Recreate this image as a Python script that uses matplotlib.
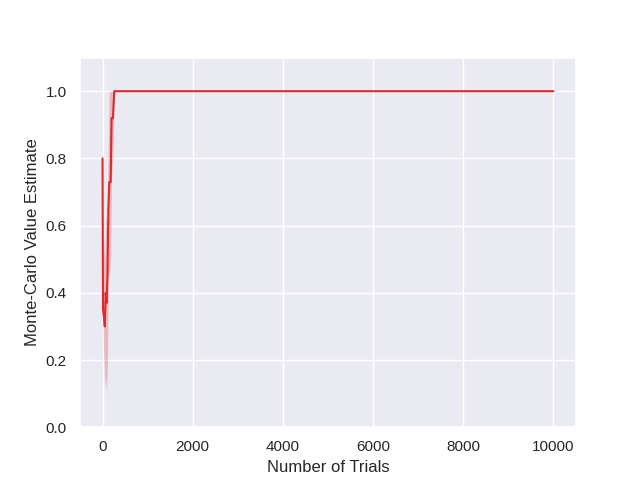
import numpy as np
import matplotlib
matplotlib.use("Agg")
import matplotlib.pyplot as plt
import seaborn as sns

# trials at which the estimate was recorded (early part is noisy, then flat)
trials = [0, 10, 30, 50, 70, 90, 110, 130, 150, 180, 200, 230, 260, 300, 1000,
          2000, 4000, 6000, 8000, 10000]
estimate = [0.80, 0.35, 0.33, 0.30, 0.40, 0.37, 0.46, 0.65, 0.73, 0.73, 0.92, 0.92,
            1.0, 1.0, 1.0, 1.0, 1.0, 1.0, 1.0, 1.0]
ci_low = [0.80, 0.30, 0.20, 0.12, 0.15, 0.10, 0.20, 0.45, 0.45, 0.50, 0.75, 0.80,
          1.0, 1.0, 1.0, 1.0, 1.0, 1.0, 1.0, 1.0]
ci_high = [0.80, 0.60, 0.55, 0.50, 0.62, 0.62, 0.70, 0.85, 1.0, 1.0, 1.0, 1.0,
           1.0, 1.0, 1.0, 1.0, 1.0, 1.0, 1.0, 1.0]

sns.set_theme()
plt.rcParams['font.family'] = ['Liberation Sans', 'DejaVu Sans']
fig, ax = plt.subplots(figsize=(6.4, 4.8), dpi=100)
color = '#de2a2a'
ax.fill_between(trials, ci_low, ci_high, color=color, alpha=0.25, linewidth=0)
ax.plot(trials, estimate, color=color, linewidth=1.5)
ax.set_ylim(0, 1.1)
ax.set_xlabel('Number of Trials')
ax.set_ylabel('Monte-Carlo Value Estimate')
fig.savefig('out.png')
